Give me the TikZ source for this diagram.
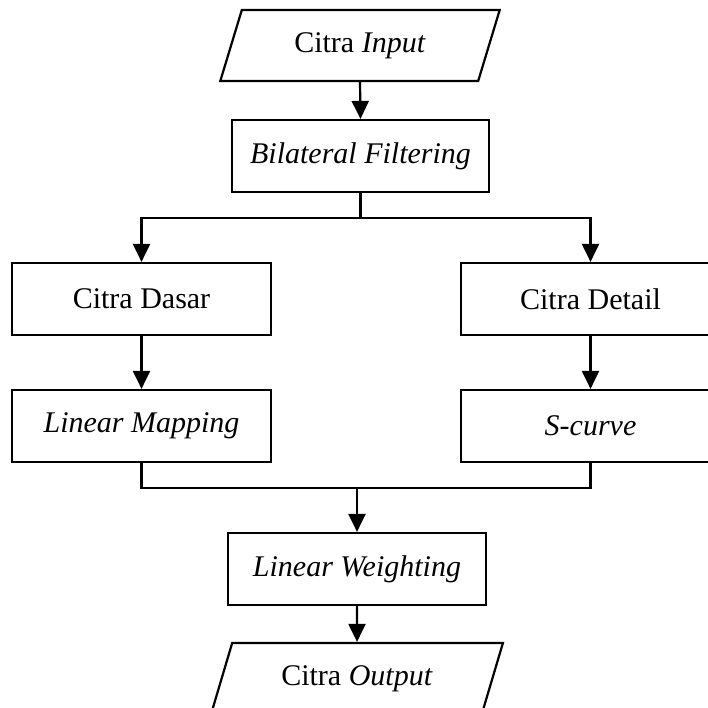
\documentclass[tikz,border=0pt]{standalone}
\usepackage{fontspec}
\setmainfont{Liberation Serif}
\usetikzlibrary{arrows.meta,shapes.geometric}
\begin{document}
\begin{tikzpicture}[x=1pt,y=-1pt,
  every node/.style={font=\fontsize{30}{36}\selectfont},
  box/.style={draw,line width=2.2pt,fill=white,minimum width=258pt,minimum height=72pt,inner sep=0pt},
  para/.style={draw,line width=2.2pt,fill=white,trapezium,trapezium stretches=true,minimum height=71pt,inner sep=0pt},
  arr/.style={line width=2.2pt,-{Triangle[width=17pt,length=18pt]}},
  ln/.style={line width=2.2pt}]
\useasboundingbox (0,0) rectangle (708,708);
\clip (0,0) rectangle (708,708);
\fill[white] (0,0) rectangle (708,708);
\node[para,trapezium left angle=65.5,trapezium right angle=114.5,minimum width=280pt] (in) at (360,45.5) {Citra \textit{Input}};
\node[box,minimum width=257pt] (bf) at (360.5,156) {\textit{Bilateral Filtering}};
\node[box,minimum width=259pt] (cd) at (141.5,299) {Citra Dasar};
\node[box,minimum width=259pt] (ct) at (590.5,299) {Citra Detail};
\node[box,minimum width=259pt] (lm) at (141.5,426) {\textit{Linear Mapping}};
\node[box,minimum width=259pt] (sc) at (590.5,426) {\textit{S-curve}};
\node[box] (lw) at (357,569) {\textit{Linear Weighting}};
\node[para,trapezium left angle=64,trapezium right angle=116,minimum width=292pt] (out) at (357,678.5) {Citra \textit{Output}};
\coordinate (sj) at (360.5,218);
\coordinate (mj) at (357,488);
\draw[arr] (in.south) -- (bf.north);
\draw[ln] (bf.south) -- (sj);
\draw[arr] (sj) -| (cd.north);
\draw[arr] (sj) -| (ct.north);
\draw[arr] (cd.south) -- (lm.north);
\draw[arr] (ct.south) -- (sc.north);
\draw[ln] (lm.south) |- (mj);
\draw[ln] (sc.south) |- (mj);
\draw[arr] (mj) -- (lw.north);
\draw[arr] (lw.south) -- (out.north);
\end{tikzpicture}
\end{document}
